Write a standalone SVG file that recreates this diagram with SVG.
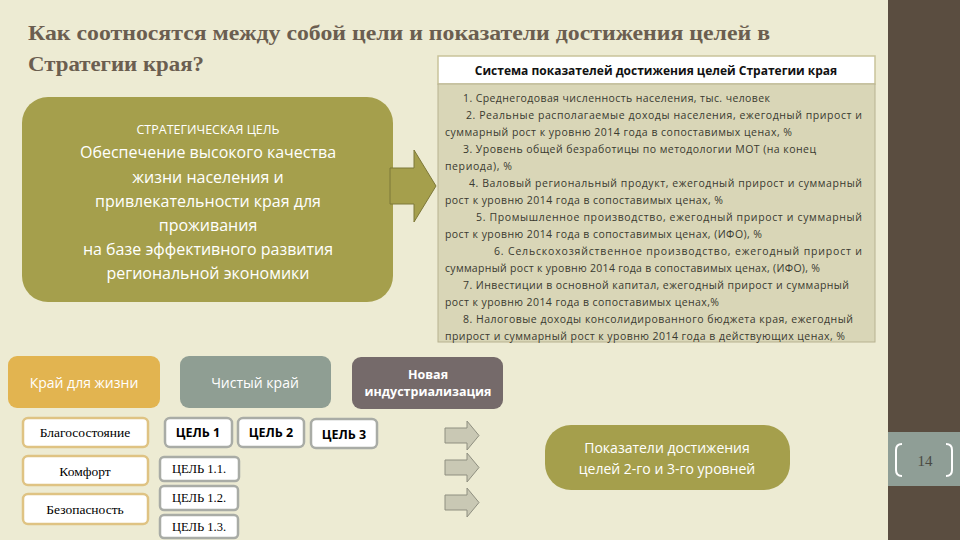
<svg xmlns="http://www.w3.org/2000/svg" width="960" height="540" viewBox="0 0 960 540">
<style>
.t{font-family:"Open Sans","Liberation Sans",sans-serif}
.s{font-family:"Liberation Serif",serif}
.p{font-family:"Open Sans","Liberation Sans",sans-serif;font-size:10.5px;fill:#3a3a30}
.w{fill:#fff;stroke-width:2.5}
.ar{fill:#c9c8b4;stroke:#8f8f80;stroke-width:1}
</style>
<rect width="960" height="540" fill="#edebd3"/>
<rect x="888" y="0" width="72" height="540" fill="#5a4d40"/>
<rect x="888" y="432" width="72" height="54" fill="#8f9e96"/>
<path d="M902 444 q-6 0 -6 6 v20 q0 6 6 6 M946 444 q6 0 6 6 v20 q0 6 -6 6" fill="none" stroke="#fff" stroke-width="2"/>
<text x="925" y="466" text-anchor="middle" class="s" font-size="15" fill="#4a4a44">14</text>
<g id="title" class="s" font-weight="bold" font-size="22" fill="#6b5e50">
<text x="28" y="40" textLength="742" lengthAdjust="spacingAndGlyphs">Как соотносятся между собой цели и показатели достижения целей в</text>
<text x="28" y="71" textLength="176" lengthAdjust="spacingAndGlyphs">Стратегии края?</text>
</g>
<g id="header"><rect x="438" y="56" width="437" height="28" fill="#fff" stroke="#c9c39a" stroke-width="1.5"/>
<text x="656" y="75" text-anchor="middle" class="t" font-weight="bold" font-size="12" fill="#111">Система показателей достижения целей Стратегии края</text></g>
<g id="indicators" class="p"><rect x="438" y="84" width="437" height="258" fill="#d9d6b7" stroke="#b7b290" stroke-width="1"/>
<text x="463" y="102" textLength="307">1. Среднегодовая численность населения, тыс. человек</text>
<text x="466" y="119" textLength="396">2. Реальные располагаемые доходы населения,  ежегодный прирост и</text>
<text x="445" y="136" textLength="347">суммарный рост к уровню 2014 года в сопоставимых ценах,  %</text>
<text x="463" y="153" textLength="353">3. Уровень общей безработицы по методологии МОТ (на конец</text>
<text x="445" y="170" textLength="67">периода), %</text>
<text x="469" y="187" textLength="393">4. Валовый региональный продукт, ежегодный прирост и суммарный</text>
<text x="445" y="204" textLength="278">рост к уровню 2014 года в сопоставимых ценах, %</text>
<text x="476" y="221" textLength="386">5. Промышленное производство, ежегодный прирост и суммарный</text>
<text x="445" y="238" textLength="317">рост к уровню 2014 года в сопоставимых ценах, (ИФО), %</text>
<text x="494" y="255" textLength="368">6. Сельскохозяйственное производство, ежегодный прирост и</text>
<text x="445" y="272" textLength="375">суммарный рост к уровню 2014 года в сопоставимых ценах, (ИФО), %</text>
<text x="463" y="289" textLength="386">7. Инвестиции в основной капитал, ежегодный прирост и суммарный</text>
<text x="445" y="306" textLength="274">рост к уровню 2014 года в сопоставимых ценах,%</text>
<text x="463" y="323" textLength="390">8. Налоговые доходы консолидированного бюджета края, ежегодный</text>
<text x="445" y="340" textLength="400">прирост и суммарный рост к уровню 2014 года в действующих ценах,  %</text></g>
<g id="goal"><rect x="22" y="97" width="371" height="205" rx="26" fill="#a59f4c"/>
<g class="t" fill="#fff" text-anchor="middle" font-size="16"><text x="208" y="134" font-size="12.5">СТРАТЕГИЧЕСКАЯ ЦЕЛЬ</text>
<text x="208" y="158">Обеспечение высокого качества</text><text x="208" y="183">жизни населения и</text><text x="208" y="207">привлекательности края для</text><text x="208" y="231">проживания</text><text x="208" y="255">на базе эффективного развития</text><text x="208" y="279">региональной экономики</text></g></g>
<g id="connectors"><path d="M390 168 h24 v-18 l22 36 l-22 36 v-18 h-24 z" fill="#a59f4c" stroke="#7d7838" stroke-width="1"/>
<path class="ar" d="M445 428 h22 v-7 l12 14.5 l-12 14.5 v-7 h-22 z"/>
<path class="ar" d="M445 460 h22 v-7 l12 14.5 l-12 14.5 v-7 h-22 z"/>
<path class="ar" d="M445 495 h22 v-7 l12 14.5 l-12 14.5 v-7 h-22 z"/></g>
<g id="kray"><rect x="8" y="356" width="152" height="52" rx="9" fill="#e2b450"/><text x="84" y="388" text-anchor="middle" class="t" font-size="14" fill="#fff">Край для жизни</text></g>
<g id="chisty"><rect x="180" y="356" width="151" height="52" rx="9" fill="#8f9e93"/><text x="255" y="388" text-anchor="middle" class="t" font-size="14" fill="#fff">Чистый край</text></g>
<g id="nova"><rect x="352" y="357" width="151" height="52" rx="9" fill="#756a6a"/><text x="428" y="379" text-anchor="middle" class="t" font-weight="bold" font-size="12.5" fill="#fff">Новая</text><text x="428" y="396" text-anchor="middle" class="t" font-weight="bold" font-size="12.5" fill="#fff">индустриализация</text></g>
<g id="blago"><rect class="w" x="23" y="418" width="125" height="29" rx="5" stroke="#dfc383"/><text x="85" y="437" text-anchor="middle" class="s" font-size="13.5">Благосостояние</text></g>
<g id="komf"><rect class="w" x="23" y="456" width="125" height="29" rx="5" stroke="#dfc383"/><text x="85" y="476" text-anchor="middle" class="s" font-size="13.5">Комфорт</text></g>
<g id="bez"><rect class="w" x="23" y="494" width="125" height="30" rx="5" stroke="#dfc383"/><text x="85" y="514" text-anchor="middle" class="s" font-size="13.5">Безопасность</text></g>
<g id="c1"><rect class="w" x="165" y="418" width="67" height="29" rx="5" stroke="#a9aca6"/><text x="198" y="437" text-anchor="middle" class="t" font-weight="bold" font-size="12.5">ЦЕЛЬ 1</text></g>
<g id="c2"><rect class="w" x="238" y="418" width="66" height="29" rx="5" stroke="#a9aca6"/><text x="271" y="437" text-anchor="middle" class="t" font-weight="bold" font-size="12.5">ЦЕЛЬ 2</text></g>
<g id="c3"><rect class="w" x="311" y="419" width="66" height="29" rx="5" stroke="#a9aca6"/><text x="344" y="439" text-anchor="middle" class="t" font-weight="bold" font-size="12.5">ЦЕЛЬ 3</text></g>
<g id="c11"><rect class="w" x="160" y="457" width="79" height="24" rx="4" stroke="#a9aca6"/><text x="199" y="473" text-anchor="middle" class="s" font-size="12.5">ЦЕЛЬ 1.1.</text></g>
<g id="c12"><rect class="w" x="160" y="486" width="78" height="24" rx="4" stroke="#a9aca6"/><text x="199" y="502" text-anchor="middle" class="s" font-size="12.5">ЦЕЛЬ 1.2.</text></g>
<g id="c13"><rect class="w" x="160" y="515" width="78" height="23" rx="4" stroke="#a9aca6"/><text x="199" y="531" text-anchor="middle" class="s" font-size="12.5">ЦЕЛЬ 1.3.</text></g>
<g id="pokaz"><rect x="545" y="425" width="245" height="65" rx="26" fill="#a59f4c"/><text x="667" y="453" text-anchor="middle" class="t" font-size="14" fill="#fff">Показатели достижения</text><text x="667" y="474" text-anchor="middle" class="t" font-size="14" fill="#fff">целей 2-го и 3-го уровней</text></g>
</svg>
